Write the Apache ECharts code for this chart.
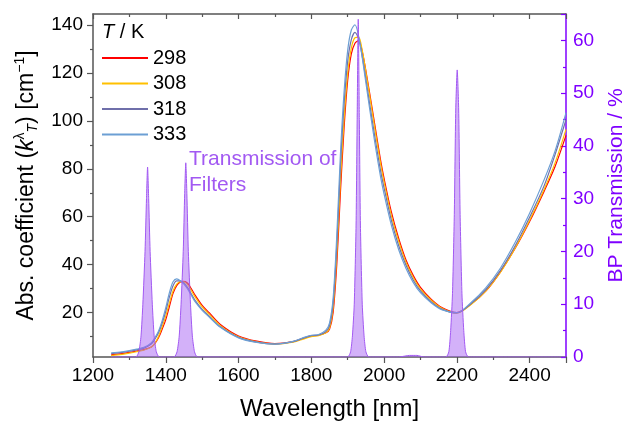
<!DOCTYPE html>
<html lang="en">
<head>
    <meta charset="UTF-8">
    <title>Abs. coefficient vs wavelength</title>
    <style>
        html, body { margin: 0; padding: 0; background: #fff; }
        #chart { width: 635px; height: 422px; }
    </style>
</head>
<body>
<div id="chart"></div>
<script src="https://cdn.jsdelivr.net/npm/echarts@6/dist/echarts.min.js"></script>
<script type="text/javascript">
    // wavelength grid [nm]
    var wl = [1250, 1280, 1300, 1320, 1340, 1360, 1370, 1380, 1390, 1400,
        1410, 1420, 1430, 1440, 1450, 1460, 1470, 1480, 1500, 1520,
        1550, 1600, 1650, 1700, 1750, 1780, 1800, 1820, 1840, 1850,
        1860, 1870, 1880, 1890, 1900, 1910, 1920, 1930, 1940, 1950,
        1960, 1975, 1990, 2000, 2020, 2040, 2060, 2080, 2100, 2130,
        2160, 2200, 2240, 2280, 2320, 2360, 2400, 2440, 2470, 2500];

    // absorption coefficient [cm-1] per temperature
    var k298 = [2.3, 2.8, 3.3, 3.9, 4.5, 5.6, 7.0, 9.4, 13, 17,
        22.5, 28, 31.2, 32.7, 33, 32.2, 30, 27.4, 23, 19.8,
        15, 10.2, 8, 7, 7.8, 9.3, 10.2, 10.5, 11.5, 13,
        20, 40, 70, 97, 117, 128, 132.5, 133.6, 129, 121,
        112, 98, 84, 76, 62, 51, 42, 35.5, 30.5, 25.5,
        22, 20, 23.6, 29, 37, 46.7, 58, 70.7, 81, 94];
    var k308 = [2.0, 2.5, 3.0, 3.6, 4.3, 5.5, 7.2, 10, 14, 18.5,
        24, 29, 31.8, 32.9, 32.8, 31.6, 29.2, 26.6, 22.3, 19.1,
        14.5, 9.8, 7.7, 6.8, 7.6, 9.0, 9.9, 10.3, 11.5, 13.5,
        22, 44, 75, 101, 120, 130.5, 134.8, 135, 129.5, 120.5,
        111, 96.5, 82.5, 74.5, 60.5, 49.8, 41, 34.6, 29.8, 25,
        21.6, 19.7, 23.4, 29, 36.8, 46.8, 58.5, 71.5, 82.5, 96.5];
    var k318 = [2.8, 3.3, 3.8, 4.4, 5.1, 6.8, 8.8, 11.5, 15.5, 20.5,
        26.5, 31.2, 33.2, 33.2, 32.2, 30.4, 27.8, 25.2, 21.3, 18.3,
        14, 9.6, 7.6, 6.8, 7.8, 9.4, 10.3, 10.6, 12, 14.5,
        24, 48, 81, 107, 125, 134, 137, 134.5, 127, 117.5,
        107.5, 93, 79.5, 72, 58.5, 48, 39.8, 33.6, 29, 24.4,
        21.3, 19.8, 23.8, 29.6, 37.6, 47.8, 59.8, 73, 86, 100.5];
    var k333 = [3.1, 3.6, 4.1, 4.7, 5.4, 7.3, 9.5, 12.2, 16.5, 22,
        28.3, 32.8, 34, 33.3, 31.9, 29.8, 27.2, 24.6, 20.9, 18,
        13.8, 9.4, 7.5, 6.8, 7.9, 9.6, 10.5, 10.8, 12.6, 15.5,
        26, 52, 86, 112, 129.5, 138, 140.2, 135.5, 126.5, 116,
        105.5, 90.5, 77, 69.5, 56.5, 46.3, 38.5, 32.6, 28.3, 24,
        21.1, 19.9, 24.3, 30.4, 38.6, 49.2, 61.5, 75.5, 87.5, 103.5];

    var tempNames = ['298', '308', '318', '333'];
    var tempColors = ['#FF0000', '#FFC000', '#6F6FAA', '#6C9FD4'];

    // band-pass filter transmission [%]: wavelength / value pairs
    var filterWl = [1250, 1318, 1326, 1332, 1337, 1343, 1347, 1350, 1353, 1357, 1363, 1368, 1374, 1382,
        1423, 1431, 1437, 1442, 1448, 1452, 1455, 1458, 1462, 1468, 1473, 1479, 1487,
        1900, 1908, 1913, 1918, 1923, 1926, 1929, 1932, 1935, 1940, 1945, 1950, 1958,
        2040, 2070, 2090, 2110,
        2170, 2178, 2183, 2188, 2193, 2197, 2201, 2205, 2209, 2214, 2219, 2224, 2232, 2500];
    var filterT = [0, 0, 1, 4, 10, 20, 30, 36, 30, 20, 10, 4, 1, 0,
        0, 1, 4, 10, 20, 31, 36.8, 31, 20, 10, 4, 1, 0,
        0, 1, 4, 10, 25, 45, 64, 45, 25, 10, 4, 1, 0,
        0, 0.3, 0.3, 0,
        0, 1, 5, 12, 27, 47, 54.4, 47, 27, 12, 5, 1, 0, 0];

    var xTicks = [1200, 2500, 200];
    var leftLabels = [20, 40, 60, 80, 100, 120, 140];
    var leftMinor = [10, 30, 50, 70, 90, 110, 130];
    var rightTicks = [0, 65, 10];

    var FONT = 'Liberation Sans, Arial, sans-serif';
    var AXIS_GRAY = '#555555';
    var PURPLE = '#7F00FF';
    var FILTER = '#A259F2';

    function pairs(xs, ys) {
        var out = [];
        for (var i = 0; i < xs.length; i++) {
            out.push([xs[i], ys[i]]);
        }
        return out;
    }

    function plain(v) {
        return String(v);
    }

    window.onload = function () {
        var chart = echarts.init(document.getElementById('chart'), null, {renderer: 'canvas'});
        var curves = [k298, k308, k318, k333];
        var series = [];
        for (var i = 0; i < curves.length; i++) {
            series.push({
                name: tempNames[i],
                type: 'line',
                xAxisIndex: 0,
                yAxisIndex: 0,
                data: pairs(wl, curves[i]),
                showSymbol: false,
                symbol: 'none',
                smooth: 0.3,
                lineStyle: {color: tempColors[i], width: 1.2},
                itemStyle: {color: tempColors[i]},
                z: 3 + i
            });
        }
        series.push({
            name: 'filters',
            type: 'line',
            xAxisIndex: 0,
            yAxisIndex: 1,
            data: pairs(filterWl, filterT),
            symbol: 'none',
            smooth: 0.2,
            lineStyle: {color: FILTER, width: 1},
            areaStyle: {color: 'rgba(166, 96, 242, 0.7)'},
            z: 10
        });

        var option = {
            animation: false,
            backgroundColor: '#ffffff',
            textStyle: {fontFamily: FONT},
            grid: {left: 93, right: 69, top: 14, bottom: 65, containLabel: false, outerBoundsMode: 'none'},
            legend: {
                data: tempNames.map(function (n) { return {name: n, icon: 'rect'}; }),
                orient: 'vertical',
                left: 97,
                top: 43,
                itemWidth: 46,
                itemHeight: 2,
                itemGap: 5.5,
                textStyle: {fontSize: 20, color: '#000', fontFamily: FONT, lineHeight: 20},
                selectedMode: false
            },
            graphic: [
                {
                    type: 'text',
                    left: 102,
                    top: 22,
                    style: {
                        text: '{i|T} / K',
                        rich: {i: {fontStyle: 'italic', fontSize: 20, fontFamily: FONT, fill: '#000'}},
                        fontSize: 20, fontFamily: FONT, fill: '#000'
                    }
                },
                {
                    type: 'text',
                    left: 189,
                    top: 146,
                    style: {
                        text: 'Transmission of\nFilters',
                        fontSize: 21, lineHeight: 26, fontFamily: FONT, fill: FILTER
                    }
                }
            ],
            xAxis: [
                {
                    type: 'value',
                    position: 'bottom',
                    min: xTicks[0], max: xTicks[1], interval: xTicks[2],
                    name: 'Wavelength [nm]',
                    nameLocation: 'middle',
                    nameGap: 40,
                    nameTextStyle: {fontSize: 24, color: '#000', fontFamily: FONT},
                    axisLine: {lineStyle: {color: AXIS_GRAY, width: 1.5}},
                    axisTick: {show: true, inside: false, length: 6, lineStyle: {color: AXIS_GRAY, width: 1.2}},
                    minorTick: {show: true, splitNumber: 2, length: 3, lineStyle: {color: AXIS_GRAY, width: 1.2}},
                    axisLabel: {fontSize: 19, color: '#000', margin: 9, fontFamily: FONT,
                        showMaxLabel: false, formatter: plain},
                    splitLine: {show: false}
                },
                {
                    type: 'value',
                    position: 'top',
                    min: xTicks[0], max: xTicks[1], interval: xTicks[2],
                    axisLine: {lineStyle: {color: AXIS_GRAY, width: 1.5}},
                    axisTick: {show: true, inside: true, length: 5, lineStyle: {color: AXIS_GRAY, width: 1.2}},
                    minorTick: {show: true, splitNumber: 2, length: 3, lineStyle: {color: AXIS_GRAY, width: 1.2}},
                    axisLabel: {show: false},
                    splitLine: {show: false}
                }
            ],
            yAxis: [
                {
                    type: 'value',
                    position: 'left',
                    min: 1.4, max: 144.7,
                    name: 'Abs. coefficient ({i|k}{sup|λ}{sub|T}) [cm{sup|−1}]',
                    nameLocation: 'middle',
                    nameGap: 51,
                    nameRotate: 90,
                    nameTextStyle: {
                        fontSize: 23, color: '#000', fontFamily: FONT, lineHeight: 27,
                        rich: {
                            i: {fontStyle: 'italic', fontSize: 23, fontFamily: FONT, color: '#000', lineHeight: 27},
                            sup: {fontSize: 14, fontFamily: FONT, color: '#000', verticalAlign: 'top', lineHeight: 27},
                            sub: {fontSize: 14, fontStyle: 'italic', fontFamily: FONT, color: '#000', verticalAlign: 'bottom', lineHeight: 23}
                        }
                    },
                    axisLine: {show: true, lineStyle: {color: AXIS_GRAY, width: 1.5}},
                    axisTick: {show: true, inside: false, length: 6, customValues: leftLabels,
                        lineStyle: {color: AXIS_GRAY, width: 1.2}},
                    axisLabel: {fontSize: 19, color: '#000', margin: 10, fontFamily: FONT, customValues: leftLabels},
                    splitLine: {show: false}
                },
                {
                    type: 'value',
                    position: 'right',
                    min: rightTicks[0], max: rightTicks[1], interval: rightTicks[2],
                    name: 'BP Transmission / %',
                    nameLocation: 'middle',
                    nameGap: 40,
                    nameRotate: 90,
                    nameTextStyle: {fontSize: 21, color: PURPLE, fontFamily: FONT},
                    axisLine: {show: true, lineStyle: {color: PURPLE, width: 1.5}},
                    axisTick: {show: true, inside: true, length: 5, lineStyle: {color: PURPLE, width: 1.2}},
                    minorTick: {show: true, splitNumber: 2, length: 3, lineStyle: {color: PURPLE, width: 1.2}},
                    axisLabel: {fontSize: 19, color: PURPLE, margin: 7, fontFamily: FONT, showMaxLabel: false},
                    splitLine: {show: false}
                },
                {
                    type: 'value',
                    position: 'left',
                    min: 1.4, max: 144.7,
                    axisLine: {show: false},
                    axisTick: {show: true, inside: false, length: 3, customValues: leftMinor,
                        lineStyle: {color: AXIS_GRAY, width: 1.2}},
                    axisLabel: {show: false},
                    splitLine: {show: false}
                }
            ],
            series: series
        };
        chart.setOption(option);
    };
</script>
</body>
</html>
